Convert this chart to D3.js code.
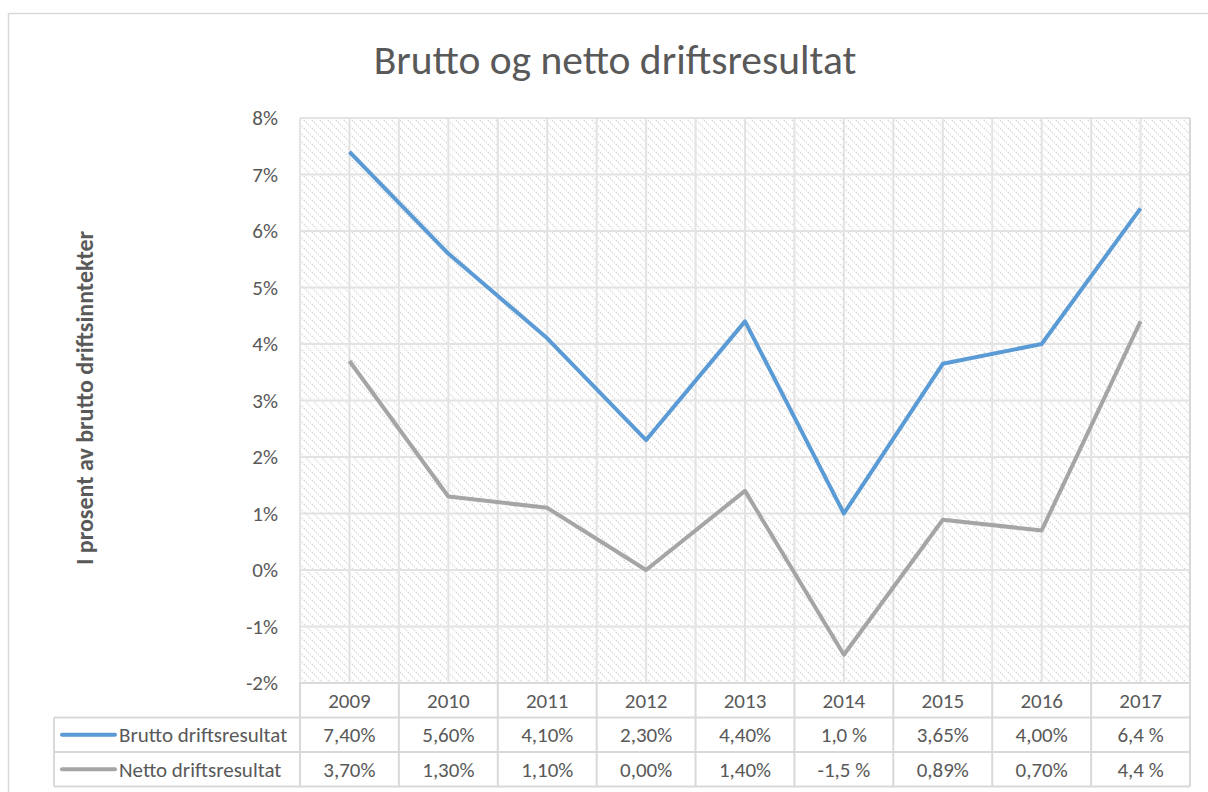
<!DOCTYPE html>
<html>
<head>
<meta charset="utf-8">
<script src="https://cdn.jsdelivr.net/npm/d3@7"></script>
<style>
  body { margin: 0; background: #fff; }
  text { font-family: Carlito, Lato, "Open Sans", sans-serif; fill: #595959; }
</style>
</head>
<body>
<div id="chart"></div>
<script>
const years = ["2009", "2010", "2011", "2012", "2013", "2014", "2015", "2016", "2017"];
const brutto = [7.4, 5.6, 4.1, 2.3, 4.4, 1.0, 3.65, 4.0, 6.4];
const netto = [3.7, 1.3, 1.1, 0.0, 1.4, -1.5, 0.89, 0.7, 4.4];
const bruttoLabels = ["7,40%", "5,60%", "4,10%", "2,30%", "4,40%", "1,0 %", "3,65%", "4,00%", "6,4 %"];
const nettoLabels = ["3,70%", "1,30%", "1,10%", "0,00%", "1,40%", "-1,5 %", "0,89%", "0,70%", "4,4 %"];
const yTicks = [-2, -1, 0, 1, 2, 3, 4, 5, 6, 7, 8];

const width = 1208, height = 792;
const plot = { left: 300, right: 1190, top: 118, bottom: 683 };
const rowH = 34.5;
const fs = 21;

const series = [
  { name: "Brutto driftsresultat", values: brutto, labels: bruttoLabels, color: "#5b9bd5" },
  { name: "Netto driftsresultat", values: netto, labels: nettoLabels, color: "#a5a5a5" },
];

const svg = d3.select("#chart").append("svg")
  .attr("width", width)
  .attr("height", height);

// hatched background of the plot area
const defs = svg.append("defs");
const pat = defs.append("pattern")
  .attr("id", "hatch")
  .attr("patternUnits", "userSpaceOnUse")
  .attr("width", 8)
  .attr("height", 8);
pat.append("rect").attr("width", 8).attr("height", 8).attr("fill", "#fff");
pat.append("path")
  .attr("d", "M0,0 L8,8 M-4,4 L4,12 M4,-4 L12,4")
  .attr("stroke", "#d8d8d8")
  .attr("stroke-width", 1.3)
  .attr("stroke-dasharray", "1.4,1.4");

// outer chart border
svg.append("rect")
  .attr("x", 8.5).attr("y", 13.5)
  .attr("width", 1220).attr("height", 800)
  .attr("fill", "none")
  .attr("stroke", "#d9d9d9")
  .attr("stroke-width", 1.5);

const x = d3.scaleBand()
  .domain(years)
  .range([plot.left, plot.right]);

const y = d3.scaleLinear()
  .domain([-2, 8])
  .range([plot.bottom, plot.top]);

svg.append("rect")
  .attr("x", plot.left).attr("y", plot.top)
  .attr("width", plot.right - plot.left)
  .attr("height", plot.bottom - plot.top)
  .attr("fill", "url(#hatch)");

// gridlines
const grid = svg.append("g")
  .attr("stroke", "#e3e3e3")
  .attr("stroke-width", 2);

grid.selectAll("line.h")
  .data(yTicks)
  .join("line")
  .attr("class", "h")
  .attr("x1", plot.left).attr("x2", plot.right)
  .attr("y1", d => y(d)).attr("y2", d => y(d));

const vPos = [];
years.forEach(d => {
  vPos.push(x(d));
  vPos.push(x(d) + x.bandwidth() / 2);
});
vPos.push(plot.right);

grid.selectAll("line.v")
  .data(vPos)
  .join("line")
  .attr("class", "v")
  .attr("x1", d => d).attr("x2", d => d)
  .attr("y1", plot.top).attr("y2", plot.bottom);

// y axis labels
svg.append("g")
  .selectAll("text")
  .data(yTicks)
  .join("text")
  .attr("x", 278)
  .attr("y", d => y(d))
  .attr("dy", "0.35em")
  .attr("text-anchor", "end")
  .attr("font-size", fs)
  .text(d => d + "%");

// lines
const line = d3.line()
  .x((d, i) => x(years[i]) + x.bandwidth() / 2)
  .y(d => y(d));

svg.append("g")
  .selectAll("path")
  .data(series)
  .join("path")
  .attr("d", d => line(d.values))
  .attr("fill", "none")
  .attr("stroke", d => d.color)
  .attr("stroke-width", 4)
  .attr("stroke-linejoin", "round");

// data table
const table = svg.append("g")
  .attr("stroke", "#d9d9d9")
  .attr("stroke-width", 2);

const tBottom = plot.bottom + rowH * 3;
// horizontal rules
[plot.bottom, plot.bottom + rowH, plot.bottom + rowH * 2, tBottom].forEach((yy, i) => {
  table.append("line")
    .attr("x1", i === 0 ? plot.left : 54).attr("x2", plot.right)
    .attr("y1", yy).attr("y2", yy);
});
// vertical rules
years.forEach(d => {
  table.append("line")
    .attr("x1", x(d)).attr("x2", x(d))
    .attr("y1", plot.bottom).attr("y2", tBottom);
});
table.append("line")
  .attr("x1", plot.right).attr("x2", plot.right)
  .attr("y1", plot.top).attr("y2", tBottom);
table.append("line")
  .attr("x1", 54).attr("x2", 54)
  .attr("y1", plot.bottom + rowH).attr("y2", tBottom);

svg.append("g")
  .selectAll("text")
  .data(years)
  .join("text")
  .attr("x", d => x(d) + x.bandwidth() / 2)
  .attr("y", plot.bottom + rowH / 2)
  .attr("dy", "0.35em")
  .attr("text-anchor", "middle")
  .attr("font-size", fs)
  .text(d => d);

series.forEach((s, r) => {
  const cy = plot.bottom + rowH * (r + 1) + rowH / 2;
  svg.append("line")
    .attr("x1", 62).attr("x2", 115)
    .attr("y1", cy).attr("y2", cy)
    .attr("stroke", s.color)
    .attr("stroke-width", 4)
    .attr("stroke-linecap", "round");
  svg.append("text")
    .attr("x", 119)
    .attr("y", cy)
    .attr("dy", "0.35em")
    .attr("font-size", fs)
    .text(s.name);
  svg.append("g")
    .selectAll("text")
    .data(s.labels)
    .join("text")
    .attr("x", (d, i) => x(years[i]) + x.bandwidth() / 2)
    .attr("y", cy)
    .attr("dy", "0.35em")
    .attr("text-anchor", "middle")
    .attr("font-size", fs)
    .text(d => d);
});

// title
svg.append("text")
  .attr("x", 615)
  .attr("y", 74)
  .attr("text-anchor", "middle")
  .attr("font-size", 41.5)
  .attr("font-weight", 300)
  .text("Brutto og netto driftsresultat");

// y axis title
svg.append("text")
  .attr("transform", "translate(93,398) rotate(-90)")
  .attr("text-anchor", "middle")
  .attr("font-size", 24)
  .attr("font-weight", "bold")
  .text("I prosent av brutto driftsinntekter");
</script>
</body>
</html>
